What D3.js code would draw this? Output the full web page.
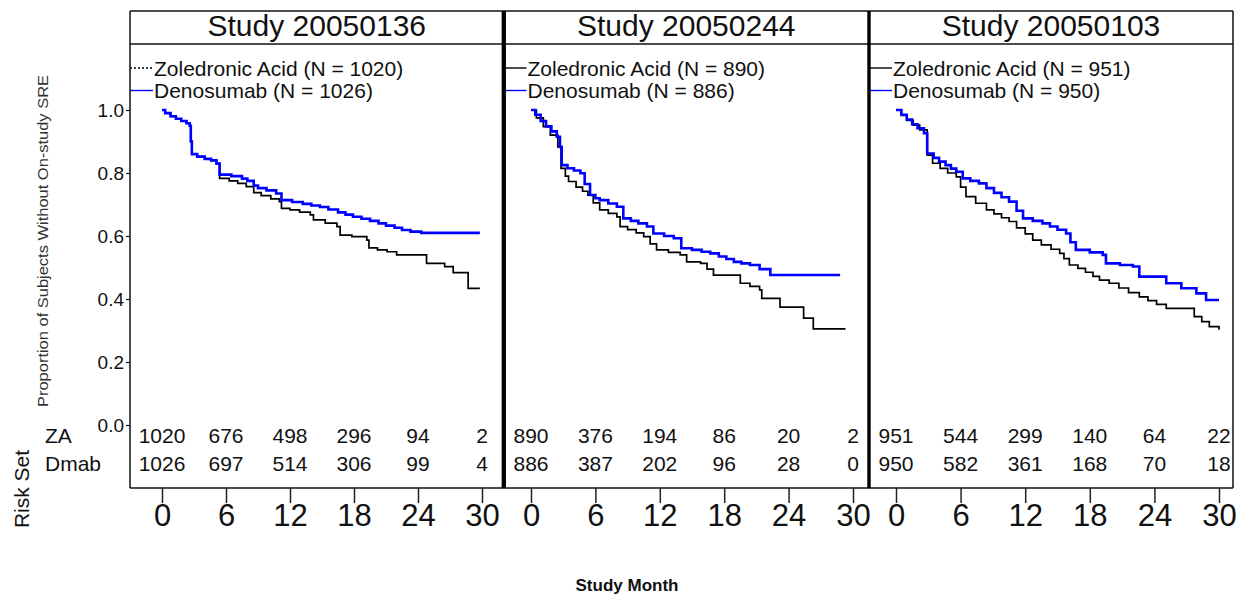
<!DOCTYPE html>
<html>
<head>
<meta charset="utf-8">
<script src="https://cdn.jsdelivr.net/npm/d3@7"></script>
<style>
html,body{margin:0;padding:0;background:#fff;}
svg{display:block;font-family:"Liberation Sans",Arial,sans-serif;}
</style>
</head>
<body>
<svg id="chart" width="1245" height="597"></svg>
<script>
// ---------- data ----------
const studies = ["Study 20050136", "Study 20050244", "Study 20050103"];
const nZA = [1020, 890, 951];
const nDmab = [1026, 886, 950];
const monthTicks = [0, 6, 12, 18, 24, 30];
const propTicks = [0, 0.2, 0.4, 0.6, 0.8, 1.0];
const riskZA = [[1020, 676, 498, 296, 94, 2], [890, 376, 194, 86, 20, 2], [951, 544, 299, 140, 64, 22]];
const riskDmab = [[1026, 697, 514, 306, 99, 4], [886, 387, 202, 96, 28, 0], [950, 582, 361, 168, 70, 18]];

// Kaplan-Meier curves: [month, proportion]
const dmab136 = [[0,1.0],[0.3,0.99],[0.8,0.98],[1.3,0.972],[1.8,0.965],[2.3,0.958],[2.6,0.95],[2.7,0.90],[2.8,0.86],[3.3,0.852],[4.0,0.845],[4.6,0.84],[5.1,0.83],[5.4,0.795],[6.5,0.79],[7.5,0.782],[8.0,0.775],[8.6,0.76],[9.0,0.752],[9.8,0.745],[10.7,0.735],[11.2,0.714],[12.2,0.708],[13.2,0.702],[14.0,0.697],[14.8,0.692],[15.6,0.684],[16.5,0.675],[17.2,0.668],[17.9,0.661],[18.7,0.655],[19.5,0.648],[20.3,0.640],[21.0,0.633],[21.8,0.626],[22.5,0.619],[23.3,0.614],[24.3,0.61],[29.8,0.61]];
const za136 = [[0,1.0],[0.3,0.99],[0.8,0.98],[1.3,0.972],[1.8,0.965],[2.3,0.958],[2.6,0.95],[2.7,0.90],[2.8,0.86],[3.3,0.852],[4.0,0.845],[4.6,0.84],[5.1,0.83],[5.4,0.783],[6.3,0.775],[7.1,0.767],[7.9,0.757],[8.6,0.738],[9.3,0.728],[10.2,0.718],[11.0,0.709],[11.2,0.688],[12.0,0.683],[12.9,0.676],[13.9,0.667],[14.2,0.651],[15.3,0.641],[16.4,0.63],[16.7,0.603],[17.8,0.598],[19.2,0.587],[19.4,0.562],[20.2,0.556],[21.1,0.55],[22.0,0.54],[24.8,0.513],[26.5,0.503],[27.3,0.484],[28.7,0.434],[29.8,0.434]];
const dmab244 = [[0,1.0],[0.4,0.985],[0.9,0.965],[1.4,0.948],[1.9,0.932],[2.4,0.915],[2.7,0.883],[2.86,0.825],[3.4,0.815],[4.0,0.808],[4.6,0.799],[5.0,0.765],[5.5,0.73],[6.0,0.72],[6.4,0.714],[7.2,0.703],[8.0,0.693],[8.6,0.656],[9.3,0.648],[10.0,0.64],[10.8,0.63],[11.4,0.608],[12.4,0.60],[13.3,0.593],[14.0,0.561],[15.0,0.556],[15.9,0.55],[16.7,0.545],[17.5,0.535],[18.2,0.527],[18.9,0.518],[19.6,0.513],[20.4,0.508],[21.3,0.495],[22.3,0.476],[28.8,0.476]];
const za244 = [[0,1.0],[0.5,0.975],[1.15,0.947],[1.8,0.92],[2.5,0.883],[2.8,0.815],[3.2,0.79],[3.5,0.773],[4.2,0.755],[4.8,0.742],[5.3,0.73],[5.8,0.705],[6.4,0.683],[7.2,0.672],[8.0,0.661],[8.3,0.63],[9.0,0.62],[9.8,0.61],[10.5,0.598],[11.1,0.575],[11.7,0.556],[12.8,0.548],[13.9,0.54],[14.5,0.518],[15.8,0.513],[16.4,0.495],[17.0,0.476],[19.5,0.45],[20.4,0.44],[21.3,0.429],[21.5,0.402],[23.2,0.374],[25.4,0.339],[26.3,0.305],[29.3,0.305]];
const dmab103 = [[0,1.0],[0.5,0.985],[1.0,0.97],[1.5,0.955],[2.0,0.942],[2.6,0.926],[2.9,0.862],[3.5,0.848],[4.0,0.836],[4.6,0.825],[5.1,0.814],[5.6,0.804],[6.2,0.783],[6.9,0.775],[7.7,0.767],[8.4,0.752],[9.1,0.737],[9.8,0.723],[10.5,0.709],[11.2,0.68],[11.8,0.656],[12.7,0.648],[13.6,0.64],[14.3,0.63],[15.0,0.62],[15.8,0.608],[16.2,0.58],[16.7,0.556],[18.0,0.548],[19.2,0.54],[19.5,0.513],[20.8,0.508],[22.0,0.503],[22.6,0.471],[25.1,0.45],[26.5,0.434],[27.9,0.418],[28.8,0.397],[30.0,0.397]];
const za103 = [[0,1.0],[0.5,0.983],[1.0,0.967],[1.6,0.952],[2.2,0.937],[2.9,0.857],[3.4,0.831],[4.1,0.815],[4.8,0.80],[5.6,0.788],[6.0,0.755],[6.5,0.725],[7.4,0.704],[8.4,0.683],[9.1,0.67],[9.8,0.658],[10.5,0.646],[11.2,0.626],[12.0,0.607],[12.7,0.587],[13.5,0.572],[14.4,0.558],[15.2,0.545],[15.6,0.528],[16.1,0.508],[16.9,0.497],[17.6,0.485],[18.3,0.472],[18.9,0.46],[19.8,0.45],[20.7,0.435],[21.6,0.42],[22.6,0.407],[23.4,0.395],[24.2,0.383],[25.1,0.37],[27.7,0.344],[28.4,0.328],[29.1,0.312],[30.0,0.302]];
const zaCurves = [za136, za244, za103];
const dmabCurves = [dmab136, dmab244, dmab103];

// ---------- layout ----------
const svg = d3.select("#chart");
const FONT = "'Liberation Sans', Arial, sans-serif";
const frameTop = 11, headBottom = 44, plotBottom = 488;
const panels = [
  {x0: 130, x1: 503.5, r: [162, 482], legendDash: "2,2"},
  {x0: 503.5, x1: 869, r: [531, 853], legendDash: null},
  {x0: 869, x1: 1233, r: [896, 1219], legendDash: null}
];
const y = d3.scaleLinear().domain([0, 1]).range([425, 110]);

svg.append("rect").attr("width", 1245).attr("height", 597).attr("fill", "#fff");

panels.forEach((p, i) => {
  const x = d3.scaleLinear().domain([0, 30]).range(p.r);
  const g = svg.append("g");

  // header
  g.append("text").attr("x", (p.x0 + p.x1) / 2).attr("y", 36)
    .attr("text-anchor", "middle").attr("font-size", 30).attr("fill", "#111")
    .text(studies[i]);

  // legend
  const legY = [68, 90.5];
  g.append("line").attr("x1", p.x0).attr("x2", p.x0 + 23).attr("y1", legY[0]).attr("y2", legY[0])
    .attr("stroke", "#000").attr("stroke-width", 1.4).attr("stroke-dasharray", p.legendDash);
  g.append("line").attr("x1", p.x0).attr("x2", p.x0 + 23).attr("y1", legY[1]).attr("y2", legY[1])
    .attr("stroke", "#0000ff").attr("stroke-width", 1.4);
  g.append("text").attr("x", p.x0 + 24).attr("y", legY[0] + 7.5).attr("font-size", 21).attr("fill", "#111")
    .text(`Zoledronic Acid (N = ${nZA[i]})`);
  g.append("text").attr("x", p.x0 + 24).attr("y", legY[1] + 7.5).attr("font-size", 21).attr("fill", "#111")
    .text(`Denosumab (N = ${nDmab[i]})`);

  // curves
  const line = d3.line().x(d => x(d[0])).y(d => y(d[1])).curve(d3.curveStepAfter);
  g.append("path").datum(zaCurves[i]).attr("d", line).attr("fill", "none")
    .attr("stroke", "#000").attr("stroke-width", 1.7);
  g.append("path").datum(dmabCurves[i]).attr("d", line).attr("fill", "none")
    .attr("stroke", "#0000ff").attr("stroke-width", 2.6);

  // risk table
  g.selectAll(".rza").data(riskZA[i]).join("text")
    .attr("x", (d, j) => x(monthTicks[j])).attr("y", 443)
    .attr("text-anchor", "middle").attr("font-size", 21).attr("fill", "#111").text(d => d);
  g.selectAll(".rdm").data(riskDmab[i]).join("text")
    .attr("x", (d, j) => x(monthTicks[j])).attr("y", 471)
    .attr("text-anchor", "middle").attr("font-size", 21).attr("fill", "#111").text(d => d);

  // x axis
  const ax = svg.append("g").attr("transform", `translate(0,${plotBottom})`)
    .call(d3.axisBottom(x).tickValues(monthTicks).tickSize(15).tickPadding(3).tickFormat(d3.format("d")));
  ax.select(".domain").remove();
  ax.selectAll(".tick line").attr("stroke", "#222").attr("stroke-width", 1.5);
  ax.selectAll(".tick text").attr("font-size", 31).attr("font-family", FONT).attr("fill", "#111")
    .attr("dy", null).attr("y", 38);
});

// frame lines
const frame = svg.append("g").attr("fill", "none").attr("stroke", "#111");
frame.append("line").attr("x1", 130).attr("x2", 1233).attr("y1", frameTop).attr("y2", frameTop).attr("stroke-width", 1.5);
frame.append("line").attr("x1", 130).attr("x2", 1233).attr("y1", headBottom).attr("y2", headBottom).attr("stroke-width", 1.5);
frame.append("line").attr("x1", 130).attr("x2", 1233).attr("y1", plotBottom).attr("y2", plotBottom).attr("stroke-width", 1.5);
frame.append("line").attr("x1", 130).attr("x2", 130).attr("y1", frameTop).attr("y2", plotBottom).attr("stroke-width", 1.5);
frame.append("line").attr("x1", 1233).attr("x2", 1233).attr("y1", frameTop).attr("y2", plotBottom).attr("stroke-width", 1.5);
frame.append("line").attr("x1", 503.8).attr("x2", 503.8).attr("y1", frameTop).attr("y2", plotBottom).attr("stroke-width", 4.3).attr("stroke", "#000");
frame.append("line").attr("x1", 869).attr("x2", 869).attr("y1", frameTop).attr("y2", plotBottom).attr("stroke-width", 3.4).attr("stroke", "#000");

// y axis (first panel only)
const ay = svg.append("g").attr("transform", "translate(130,0)")
  .call(d3.axisLeft(y).tickValues(propTicks).tickSize(4).tickPadding(2).tickFormat(d3.format(".1f")));
ay.select(".domain").remove();
ay.selectAll(".tick line").attr("stroke", "#111").attr("stroke-width", 1.2);
ay.selectAll(".tick text").attr("font-size", 19).attr("font-family", FONT).attr("fill", "#111");

// risk row labels
svg.append("text").attr("x", 45).attr("y", 443).attr("font-size", 21).attr("fill", "#111").text("ZA");
svg.append("text").attr("x", 45).attr("y", 471).attr("font-size", 21).attr("fill", "#111").text("Dmab");

// rotated titles
svg.append("text").attr("transform", "translate(48,241) rotate(-90)")
  .attr("text-anchor", "middle").attr("font-size", 15).attr("fill", "#333")
  .attr("textLength", 332).attr("lengthAdjust", "spacingAndGlyphs")
  .text("Proportion of Subjects Without On-study SRE");
svg.append("text").attr("transform", "translate(29,489) rotate(-90)")
  .attr("text-anchor", "middle").attr("font-size", 21).attr("fill", "#111")
  .text("Risk Set");

// x title
svg.append("text").attr("x", 627).attr("y", 591).attr("text-anchor", "middle")
  .attr("font-size", 17).attr("font-weight", "bold").attr("fill", "#111")
  .text("Study Month");
</script>
</body>
</html>
